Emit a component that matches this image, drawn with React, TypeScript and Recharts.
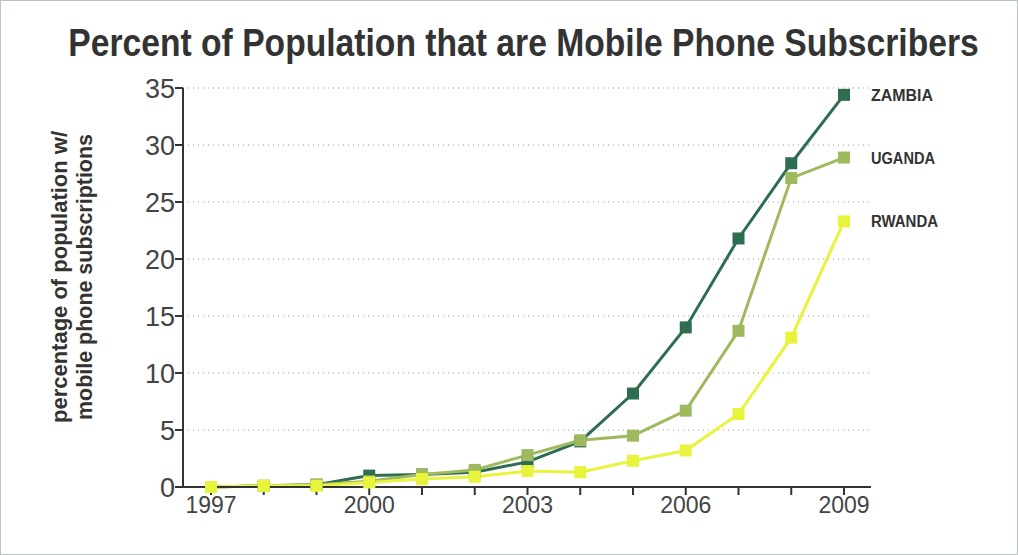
import React from "react";
import { CartesianGrid, Label, LabelList, Line, LineChart, XAxis, YAxis } from "recharts";

const years = [1997, 1998, 1999, 2000, 2001, 2002, 2003, 2004, 2005, 2006, 2007, 2008, 2009];
const zambia = [0, 0.1, 0.2, 1.0, 1.1, 1.3, 2.2, 4.0, 8.2, 14.0, 21.8, 28.4, 34.4];
const uganda = [0, 0.1, 0.2, 0.5, 1.1, 1.5, 2.8, 4.1, 4.5, 6.7, 13.7, 27.1, 28.9];
const rwanda = [0, 0.1, 0.1, 0.4, 0.7, 0.9, 1.4, 1.3, 2.3, 3.2, 6.4, 13.1, 23.3];
const labeledYears = [1997, 2000, 2003, 2006, 2009];
const yTicks = [0, 5, 10, 15, 20, 25, 30, 35];

const data = years.map((year, i) => ({
  year,
  zambia: zambia[i],
  uganda: uganda[i],
  rwanda: rwanda[i],
}));

const series = [
  { key: "zambia", name: "ZAMBIA", color: "#2f6d51", w: 62 },
  { key: "uganda", name: "UGANDA", color: "#9fba5e", w: 64 },
  { key: "rwanda", name: "RWANDA", color: "#e8f43c", w: 67 },
];

const font = "'Liberation Sans', Arial, sans-serif";

const SquareDot = (color: string) => (props: any) => {
  const { cx, cy, index } = props;
  if (cx == null || cy == null) return <g key={index} />;
  return <rect key={index} x={cx - 6} y={cy - 6} width={12} height={12} fill={color} />;
};

const endLabel = (name: string, w: number) => (props: any) => {
  const { x, y, index } = props;
  if (index !== years.length - 1) return null;
  return (
    <text
      x={x + 27}
      y={y}
      dy={6}
      fill="#333"
      fontFamily={font}
      fontWeight="bold"
      fontSize={16}
      textLength={w}
      lengthAdjust="spacingAndGlyphs"
    >
      {name}
    </text>
  );
};

const YTitle = () => {
  const cx = 78;
  const cy = 276;
  return (
    <text
      transform={`rotate(-90 ${cx} ${cy})`}
      x={cx}
      y={cy}
      textAnchor="middle"
      fill="#333"
      fontFamily={font}
      fontWeight="bold"
      fontSize={22}
    >
      <tspan x={cx} dy={-12} textLength={292} lengthAdjust="spacingAndGlyphs">
        percentage of population w/
      </tspan>
      <tspan x={cx} dy={25} textLength={286} lengthAdjust="spacingAndGlyphs">
        mobile phone subscriptions
      </tspan>
    </text>
  );
};

export default function App() {
  return (
    <div
      style={{
        position: "fixed",
        top: 0,
        left: 0,
        width: 1018,
        height: 555,
        background: "#fff",
        boxSizing: "border-box",
        border: "1px solid #b9c4bf",
      }}
    >
      <svg width={1016} height={120} style={{ position: "absolute", top: 0, left: 0 }}>
        <text
          transform="translate(522.5,55) scale(0.886,1)"
          x={0}
          y={0}
          textAnchor="middle"
          fill="#333"
          fontFamily={font}
          fontWeight="bold"
          fontSize={38}
        >
          Percent of Population that are Mobile Phone Subscribers
        </text>
      </svg>
      <LineChart
        width={1016}
        height={553}
        data={data}
        margin={{ top: 87, right: 146, bottom: 27, left: 0 }}
        style={{ position: "absolute", top: 0, left: 0 }}
      >
        <CartesianGrid horizontal vertical={false} stroke="#999" strokeDasharray="1 4" />
        <XAxis
          dataKey="year"
          type="number"
          domain={[1997, 2009]}
          ticks={years}
          padding={{ left: 28, right: 27 }}
          tickFormatter={(v: number) => (labeledYears.includes(v) ? String(v) : "")}
          axisLine={{ stroke: "#333", strokeWidth: 2 }}
          tickLine={{ stroke: "#333", strokeWidth: 2 }}
          tickSize={8}
          tick={{ fill: "#444", fontSize: 23, fontFamily: font }}
          height={40}
        />
        <YAxis
          domain={[0, 35]}
          ticks={yTicks}
          width={182}
          axisLine={{ stroke: "#333", strokeWidth: 2 }}
          tickLine={{ stroke: "#333", strokeWidth: 2 }}
          tickSize={8}
          tickMargin={0}
          tick={{ fill: "#444", fontSize: 27, fontFamily: font }}
        >
          <Label content={<YTitle />} />
        </YAxis>
        {series.map((s) => (
          <Line
            key={s.key}
            dataKey={s.key}
            name={s.name}
            stroke={s.color}
            strokeWidth={3}
            type="linear"
            dot={SquareDot(s.color)}
            activeDot={false}
            isAnimationActive={false}
          >
            <LabelList dataKey={s.key} content={endLabel(s.name, s.w)} />
          </Line>
        ))}
      </LineChart>
    </div>
  );
}
